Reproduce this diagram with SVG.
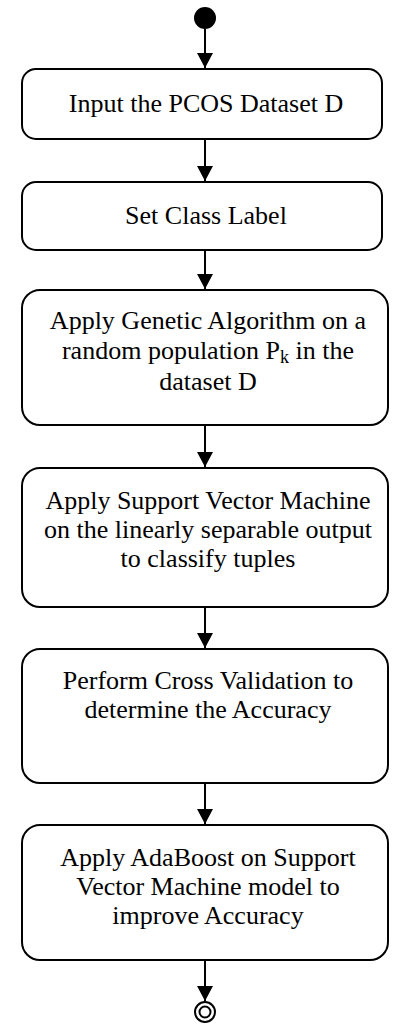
<svg xmlns="http://www.w3.org/2000/svg" width="396" height="1024" viewBox="0 0 396 1024">
<defs>
<marker id="ah" markerWidth="16" markerHeight="16" refX="15" refY="8" orient="auto" markerUnits="userSpaceOnUse">
<path d="M0,0 L15,8 L0,16 Z" fill="#000"/>
</marker>
<style>
.box{fill:#fff;stroke:#000;stroke-width:2}
.t{font-family:"Liberation Serif","Times New Roman",serif;font-size:26px;fill:#000;text-anchor:middle}
.c{stroke:#000;stroke-width:2;fill:none}
</style>
</defs>
<rect width="396" height="1024" fill="#fff"/>
<g id="start"><circle cx="205" cy="18" r="11" fill="#000"/></g>
<g id="connectors">
<line class="c" x1="205" y1="29" x2="205" y2="68" marker-end="url(#ah)"/>
<line class="c" x1="205" y1="139" x2="205" y2="181" marker-end="url(#ah)"/>
<line class="c" x1="205" y1="250" x2="205" y2="289" marker-end="url(#ah)"/>
<line class="c" x1="205" y1="425" x2="205" y2="467" marker-end="url(#ah)"/>
<line class="c" x1="205" y1="607" x2="205" y2="648" marker-end="url(#ah)"/>
<line class="c" x1="205" y1="783" x2="205" y2="824" marker-end="url(#ah)"/>
<line class="c" x1="205" y1="960" x2="205" y2="1001" marker-end="url(#ah)"/>
</g>
<g id="n1"><rect class="box" x="22" y="69" width="360" height="70" rx="14"/>
<text class="t" x="206" y="112">Input the PCOS Dataset D</text></g>
<g id="n2"><rect class="box" x="22" y="182" width="360" height="68" rx="14"/>
<text class="t" x="206" y="224">Set Class Label</text></g>
<g id="n3"><rect class="box" x="22" y="290" width="366" height="135" rx="18"/>
<text class="t" x="208" y="329">Apply Genetic Algorithm on a</text>
<text class="t" x="208" y="359">random population P<tspan font-size="18" dy="4">k</tspan><tspan dy="-4"> in the</tspan></text>
<text class="t" x="208" y="390">dataset D</text></g>
<g id="n4"><rect class="box" x="22" y="468" width="366" height="139" rx="18"/>
<text class="t" x="208" y="509">Apply Support Vector Machine</text>
<text class="t" x="208" y="538">on the linearly separable output</text>
<text class="t" x="208" y="567">to classify tuples</text></g>
<g id="n5"><rect class="box" x="22" y="649" width="366" height="134" rx="18"/>
<text class="t" x="208" y="689">Perform Cross Validation to</text>
<text class="t" x="208" y="718">determine the Accuracy</text></g>
<g id="n6"><rect class="box" x="22" y="825" width="366" height="135" rx="18"/>
<text class="t" x="208" y="866">Apply AdaBoost on Support</text>
<text class="t" x="208" y="895">Vector Machine model to</text>
<text class="t" x="208" y="924">improve Accuracy</text></g>
<g id="end"><circle cx="205" cy="1012" r="10" fill="#fff" stroke="#000" stroke-width="2"/>
<circle cx="205" cy="1012" r="5.5" fill="#fff" stroke="#000" stroke-width="2"/></g>
</svg>
